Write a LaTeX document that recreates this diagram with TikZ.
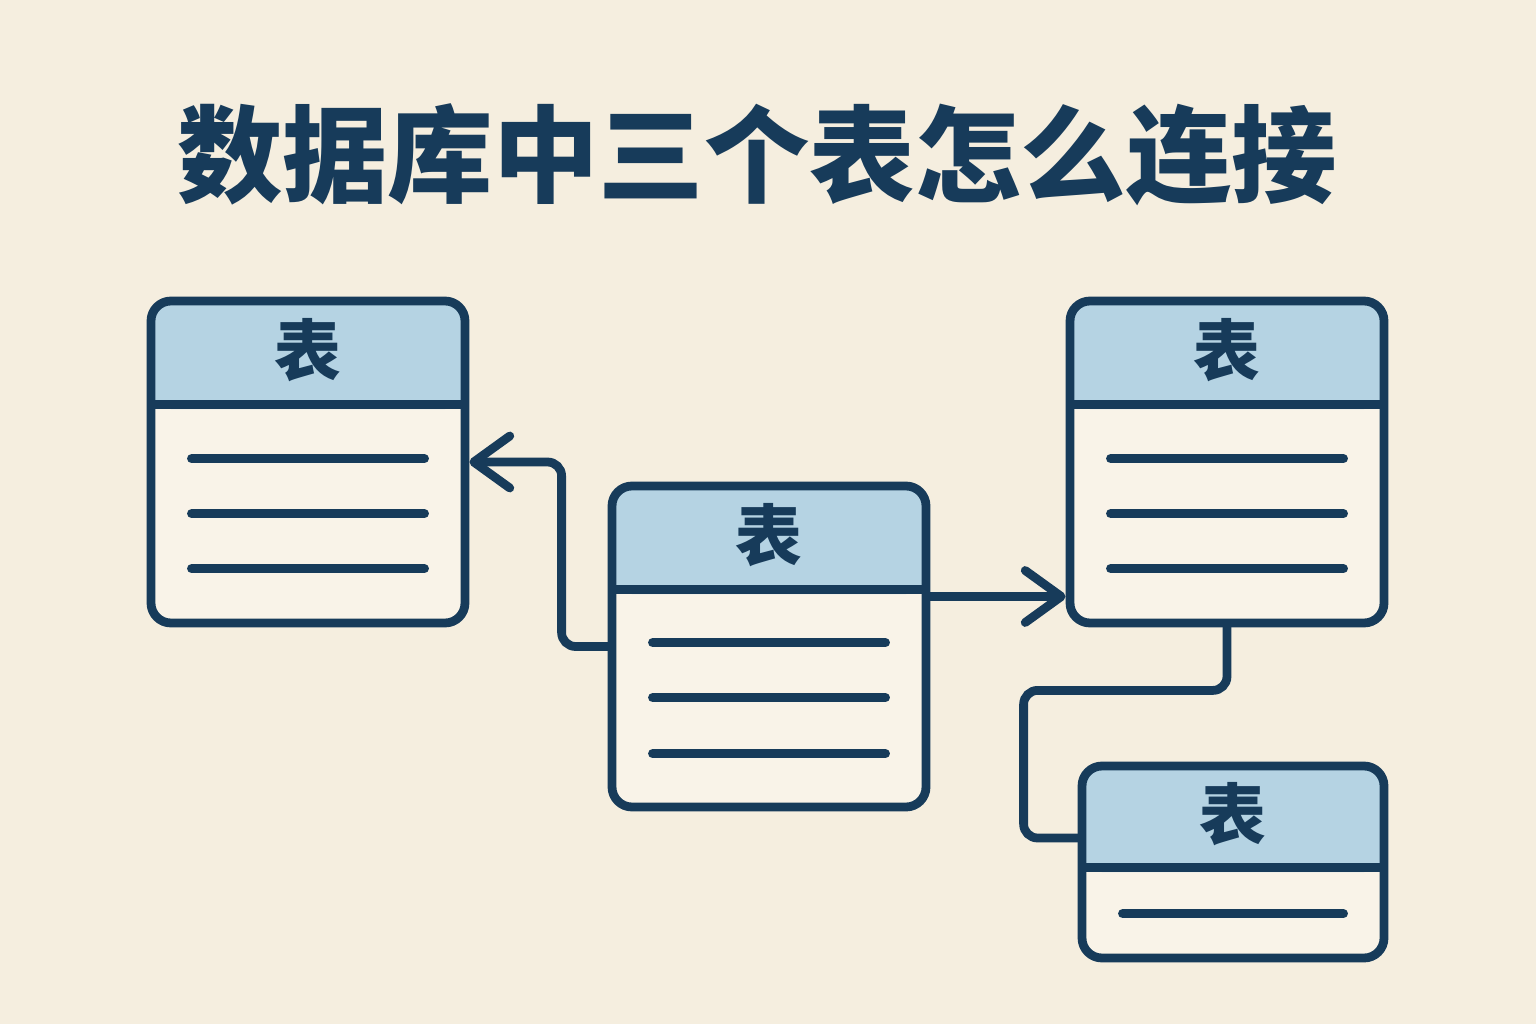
\documentclass[tikz,border=0pt]{standalone}
\usepackage{fontspec}
\newfontfamily\cjk{Noto Sans CJK SC}
\usepackage{xcolor}
\usepackage{tikz}
\usetikzlibrary{arrows.meta, calc}
\definecolor{navy}{HTML}{173B5A}
\definecolor{headblue}{HTML}{B5D3E3}
\definecolor{paper}{HTML}{F5EEDF}
\definecolor{cream}{HTML}{F9F3E8}
\newcommand{\DbTable}[6]{
	\def\lname{#1}
	\def\lpin{#2}
	\def\lwidth{#3}
	\def\lheight{#4}
	\def\lhead{#5}
	\node[tablebox, minimum width=\lwidth cm, minimum height=\lheight cm, path picture={
		\fill[headblue] (path picture bounding box.north west) rectangle ([yshift=-\lhead cm]path picture bounding box.north east);
	}] (\lname) at (\lpin) {};
	\draw[navy, line width=2.5pt, line cap=butt] ([yshift=-\lhead cm, xshift=1pt]\lname.north west) -- ([yshift=-\lhead cm, xshift=-1pt]\lname.north east);
	\node[headtext] (\lname-h) at ($(\lname.north)+(0,-\lhead/2)$) {表};

	\foreach \r in {#6}
		\draw[row] ($(\lname.north west)+(0.45,-\lhead-\r)$) -- ($(\lname.north east)+(-0.45,-\lhead-\r)$);
}

\begin{document}
\begin{tikzpicture}[line cap=round,
	tablebox/.style={draw=navy, fill=cream, line width=2.5pt, rounded corners=0.2cm},
	headtext/.style={text=navy, font=\cjk\bfseries\fontsize{19}{19}\selectfont},
	row/.style={navy, line width=2.6pt, line cap=round},
	link/.style={navy, line width=2.5pt, rounded corners=0.14cm},
	barb/.style={-{Straight Barb[length=3.6mm, width=5.2mm, round]}}]

	\fill[paper] (0,0) rectangle (15.36,10.24);
	\useasboundingbox (0,0) rectangle (15.36,10.24);

	\node[text=navy, font=\cjk\bfseries\fontsize{30}{30}\selectfont] (title) at (7.57,8.69) {数据库中三个表怎么连接};

	\DbTable{A}{3.08,5.62}{3.14}{3.22}{1.08}{0.54,1.09,1.64}
	\DbTable{B}{7.69,3.775}{3.14}{3.21}{1.08}{0.53,1.08,1.64}
	\DbTable{C}{12.27,5.62}{3.14}{3.22}{1.08}{0.54,1.09,1.64}
	\DbTable{D}{12.33,1.62}{3.02}{1.92}{1.06}{0.46}

	\coordinate (P) at ([yshift=0.5cm]B.east);
	\coordinate (Q) at ([yshift=0.24cm]D.west);

	\draw[link, barb] (B.west) -- ++(-0.46,0) |- (A.east);
	\draw[link, barb] (P) -- (P -| C.west);
	\draw[link] (C.south) -- ++(0,-0.63) -| ([xshift=-0.54cm]Q) -- (Q);

\end{tikzpicture}
\end{document}
